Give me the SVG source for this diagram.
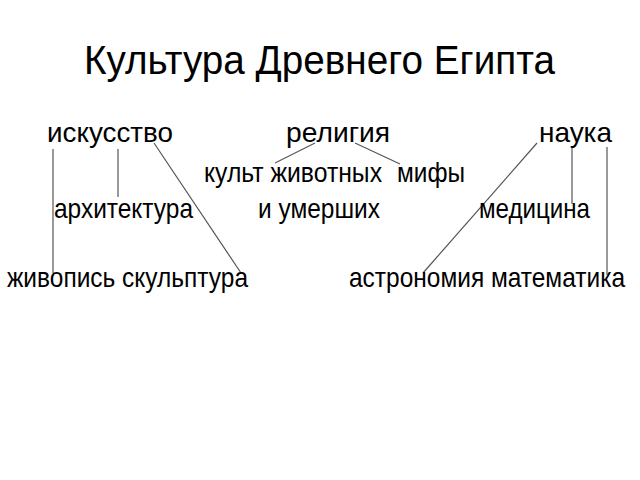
<svg xmlns="http://www.w3.org/2000/svg" width="640" height="480" viewBox="0 0 640 480">
<style>
text{font-family:"Liberation Sans",Arial,sans-serif;fill:#000}
.t{font-size:40px}
.n{font-size:28px}
line{stroke:#555;stroke-width:1.2}
</style>
<rect width="640" height="480" fill="#fff"/>
<g id="title"><text class="t" x="84" y="74" textLength="471" lengthAdjust="spacingAndGlyphs">Культура Древнего Египта</text></g>
<g id="connectors">
<line x1="53" y1="149" x2="53" y2="273"/>
<line x1="118" y1="149" x2="118" y2="197"/>
<line x1="154" y1="143" x2="241" y2="273"/>
<line x1="315" y1="143" x2="275" y2="163"/>
<line x1="355" y1="143" x2="400" y2="164"/>
<line x1="537" y1="143" x2="423" y2="273"/>
<line x1="572" y1="148" x2="572" y2="204"/>
<line x1="607" y1="147" x2="607" y2="275"/>
</g>
<g id="iskusstvo"><text class="n" x="47" y="142" textLength="126" lengthAdjust="spacingAndGlyphs">искусство</text></g>
<g id="religiya"><text class="n" x="286" y="142" textLength="104" lengthAdjust="spacingAndGlyphs">религия</text></g>
<g id="nauka"><text class="n" x="539" y="142" textLength="73" lengthAdjust="spacingAndGlyphs">наука</text></g>
<g id="kult"><text class="n" x="204" y="182" textLength="178" lengthAdjust="spacingAndGlyphs">культ животных</text><text class="n" x="397" y="182" textLength="68" lengthAdjust="spacingAndGlyphs">мифы</text><text class="n" x="258" y="218" textLength="122" lengthAdjust="spacingAndGlyphs">и умерших</text></g>
<g id="arkhitektura"><text class="n" x="54" y="218" textLength="139" lengthAdjust="spacingAndGlyphs">архитектура</text></g>
<g id="meditsina"><text class="n" x="479" y="218" textLength="111" lengthAdjust="spacingAndGlyphs">медицина</text></g>
<g id="zhivopis"><text class="n" x="7" y="287" textLength="241" lengthAdjust="spacingAndGlyphs">живопись скульптура</text></g>
<g id="astronomiya"><text class="n" x="349" y="287" textLength="276" lengthAdjust="spacingAndGlyphs">астрономия математика</text></g>
</svg>
